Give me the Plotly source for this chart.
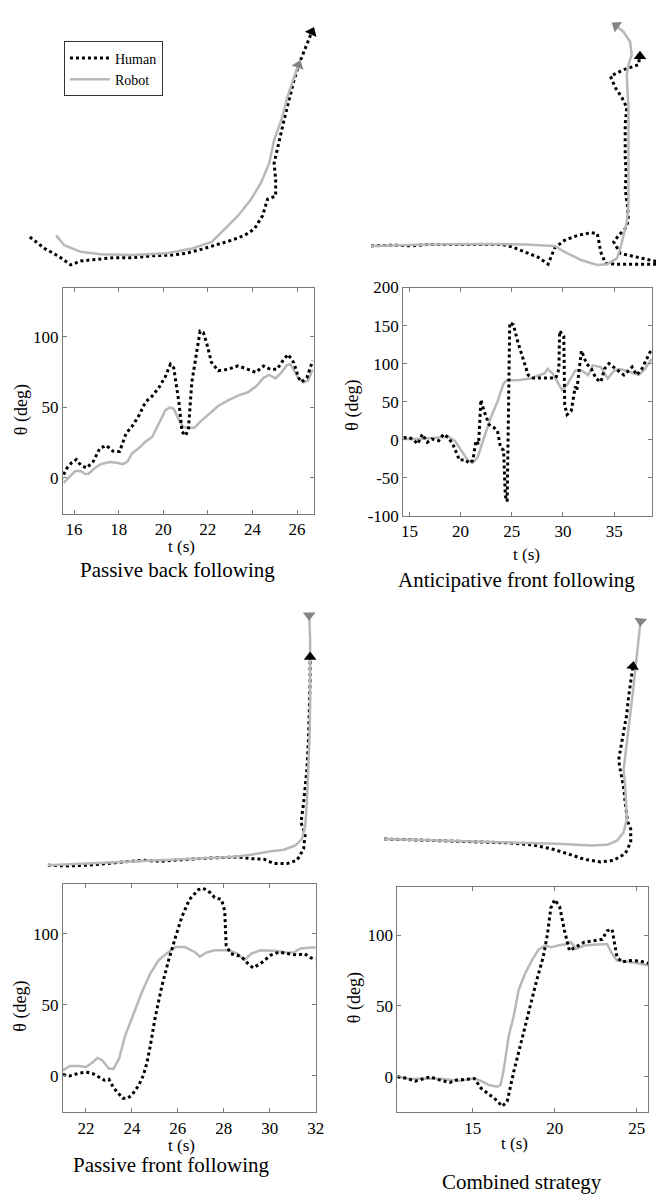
import plotly.graph_objects as go

W, H = 665, 1200
FONT = '"Liberation Serif", "Times New Roman", Times, "DejaVu Serif", serif'

# ---------------- Trajectory data (panel units, y up) ----------------
# Passive back following (top-left)
pb_hx = [28.3, 43.3, 58.3, 70, 80, 96.7, 113.3, 133.3, 153.3, 173.3, 186.7, 203.3, 220, 233.3, 246.7,
         256.7, 265, 270, 278.3, 278.3, 276.7, 281.7, 286.7, 291.7, 296.7, 301.7, 308.3, 315]
pb_hy = [38.3, 26.7, 18.3, 10, 14, 16, 17.3, 17.3, 19.3, 20, 21.7, 26, 30.7, 35, 40,
         46.7, 60, 76.7, 80, 96.7, 113.3, 136.7, 156.7, 176.7, 196.7, 213.3, 230, 246.7]
pb_rx = [55, 63.3, 80, 100, 133.3, 166.7, 193.3, 213.3, 226.7, 240, 253.3, 263.3, 271.7, 276.7, 285,
         290, 296.7, 301.5]
pb_ry = [40, 30, 23.3, 20.7, 20, 21.7, 26.7, 33.3, 46.7, 60, 76.7, 93.3, 113.3, 136.7, 160,
         180, 200, 213]

# Anticipative front following (top-right)
af_hx = [43.3, 66.7, 83.3, 100, 116.7, 140, 160, 176.7, 186.7, 200, 213.3, 223.3, 226.7, 230, 240,
         253.3, 266.7, 273.3, 275, 276.7, 281.7, 293.3, 316.7, 336.7, 336.7, 316.7, 296.7, 290, 295,
         301.7, 305, 304, 301.7, 302.7, 301.7, 301.7, 301.7, 303.3, 298.3, 291.7, 286.7, 300, 315, 316.7]
af_hy = [29.3, 30, 29.3, 30.7, 30.7, 30.7, 31.3, 30.7, 28.3, 23.3, 17.7, 10.7, 18.3, 27.3, 35,
         40, 42.7, 41.7, 33.3, 23.3, 11.7, 10.7, 10.7, 10.7, 12.7, 17.3, 21.7, 33.3, 40,
         46.7, 55, 70, 86.7, 103.3, 120, 136.7, 153.3, 170, 180, 190, 201.7, 208.3, 213.3, 222]
af_rx = [43.3, 100, 160, 200, 230, 240, 256.7, 273.3, 283.3, 293.3, 296.7, 300, 303.3, 305, 305,
         305, 305, 304, 303.3, 305, 308.3, 306.7, 300, 292.5]
af_ry = [29.3, 30.7, 31.3, 30.7, 29.3, 23.3, 15, 10, 10.7, 16.7, 26.7, 40, 53.3, 70, 103.3,
         136.7, 170, 186.7, 203.3, 213.3, 223.3, 236.7, 246.7, 253]

# Passive front following (bottom-left)
pf_hx = [46.7, 66.7, 86.7, 106.7, 126.7, 143.3, 160, 180, 200, 220, 240, 253.3, 266.7, 276.7, 290,
         300, 306.7, 308.3, 304, 306.7, 310, 311.7, 312.7, 313.3, 313.3]
pf_hy = [20, 19.3, 20, 21.7, 23.3, 25, 24, 25.7, 26.7, 27.7, 28.3, 26.7, 26, 21.7, 21.7,
         25, 36.7, 51.7, 63.3, 83.3, 116.7, 150, 183.3, 206.7, 231.7]
pf_rx = [46.7, 133.3, 200, 233.3, 253.3, 273.3, 286.7, 298.3, 305, 308.3, 310, 311.7, 312.7, 313.3,
         313.3, 313.3, 312.3]
pf_ry = [20, 24, 26.7, 28.3, 30.7, 34.3, 35.7, 40, 46.7, 60, 83.3, 116.7, 150, 183.3,
         216.7, 250, 274]

# Combined strategy (bottom-right)
cs_hx = [56.7, 83.3, 116.7, 150, 183.3, 206.7, 226.7, 243.3, 260, 276.7, 290, 301.7, 307.3, 307.3,
         304, 301.7, 300, 296.7, 295, 297.3, 300, 303.3, 305, 307.3, 309.5]
cs_hy = [46.7, 46, 45, 44, 42.7, 40.7, 36.7, 31.7, 26, 23.3, 25, 31.7, 43.3, 56.7,
         65, 83.3, 100, 116.7, 126.7, 140, 156.7, 173.3, 190, 206.7, 222]
cs_rx = [56.7, 133.3, 200, 233.3, 266.7, 283.3, 293.3, 300, 303.3, 302.7, 301.7, 300, 301.7, 304,
         306, 308.3, 310, 311.7, 313.3, 315, 316.7, 317.3]
cs_ry = [46.7, 44.7, 43.3, 41.7, 40, 40.7, 45, 53.3, 66.7, 83.3, 100, 116.7, 133.3, 150,
         166.7, 183.3, 200, 216.7, 233.3, 250, 262, 268]

# ---------------- Heading angle data theta(t) ----------------
pb_ht = [15.53, 15.68, 15.9, 16.1, 16.3, 16.56, 16.86, 17.15, 17.45, 17.74, 18.04, 18.33, 18.62, 18.9,
         19.2, 19.5, 19.8, 20.1, 20.32, 20.47, 20.7, 20.84, 21.0, 21.13, 21.28, 21.5, 21.65, 21.8,
         21.94, 22.16, 22.46, 22.9, 23.35, 23.8, 24.15, 24.5, 24.8, 25.1, 25.4, 25.6, 25.85, 26.07,
         26.2, 26.44, 26.7]
pb_hth = [2.3, 7, 11, 13, 9, 7, 11.7, 21, 23, 19, 18.7, 31.5, 37, 44, 53.7, 58, 64, 72, 80.6, 78,
          53.7, 32.7, 30, 35, 67.8, 91, 104, 103, 96, 82, 76, 77, 79.4, 77, 74.8, 79.4, 77, 77, 84,
          87.6, 81.8, 71, 68, 71, 83]
pb_rt = [15.53, 15.75, 16.04, 16.27, 16.5, 16.63, 16.93, 17.2, 17.6, 17.9, 18.2, 18.4, 18.6, 18.9,
         19.2, 19.5, 19.7, 19.9, 20.1, 20.3, 20.47, 20.7, 20.9, 21.13, 21.4, 21.65, 21.87, 22.16,
         22.46, 22.9, 23.35, 23.8, 24.2, 24.5, 24.75, 25.04, 25.3, 25.55, 25.7, 25.9, 26.07, 26.3,
         26.5, 26.7]
pb_rth = [-3.5, 0, 4.7, 5.1, 2.8, 2.8, 7, 9.8, 11.2, 10.7, 9.8, 11.7, 17.5, 21, 25.7, 29, 35, 41,
          48, 50, 49, 41, 36, 35.5, 35.5, 39.7, 43, 46.7, 51, 55, 58.4, 60.7, 65.4, 71, 73, 70.6,
          74.8, 80, 80.6, 74.8, 70.6, 67.8, 69, 77]

af_ht = [14.43, 15, 15.5, 15.8, 16.27, 16.75, 17.2, 17.86, 18.33, 18.8, 19.3, 19.9, 20.4, 20.87,
         21.2, 21.5, 21.76, 21.98, 22.3, 22.78, 23.25, 23.6, 23.9, 24.2, 24.37, 24.55, 24.8, 25.16,
         25.6, 26.1, 26.6, 27.06, 28, 29.3, 29.6, 29.67, 30.08, 30.17, 30.4, 30.8, 31.2, 31.35,
         31.8, 32.3, 32.78, 33.25, 33.7, 34.05, 34.5, 35.16, 35.95, 36.27, 36.75, 37.2, 37.7,
         38.17, 38.65]
af_hth = [3, 3, -1.3, -5.6, 7.3, -3.4, 0.9, -1.3, 7.3, 3, -7.7, -27, -26, -31, -27, -1.3, -5.6,
          52.5, 37.4, 20, 16, 11.6, -10, -14, -74, -81, 153.6, 151, 128, 106, 85, 81, 81, 81, 93,
          143, 136, 46, 33, 37.4, 70, 65, 117, 100, 93, 80, 76, 93, 100, 93, 85, 89, 95.5, 85, 93,
          106, 119]
af_rt = [14.43, 15.95, 17.86, 18.8, 19.44, 20.08, 20.7, 21.2, 21.67, 22.3, 22.94, 23.6, 24.2, 24.5,
         25.5, 26.75, 27.7, 28.2, 28.5, 29, 29.45, 29.9, 30.4, 31.2, 31.8, 32.46, 32.9, 33.7, 34.37,
         35, 35.63, 36.6, 37.4, 38, 38.65]
af_rth = [1, 1, 3, 4, -1.3, -14, -27, -30.5, -23, 3, 29, 50, 74, 78, 78, 80.5, 85, 87, 93, 87, 76,
          65.4, 72, 91, 91, 85, 97.7, 95.5, 80.5, 91, 93, 89, 85, 93, 106]

pf_ht = [21, 21.3, 21.7, 22, 22.3, 22.6, 22.8, 23, 23.2, 23.6, 23.8, 24, 24.3, 24.5, 24.66, 24.8,
         25.0, 25.3, 25.6, 25.9, 26.17, 26.5, 26.9, 27.1, 27.4, 27.6, 27.9, 28.04, 28.1, 28.3,
         28.76, 29.05, 29.27, 29.6, 30.05, 30.4, 30.8, 31.2, 31.5, 31.8, 32]
pf_hth = [1, 0, 2, 2.8, 1.6, -1.4, -3, -2.3, -8.3, -15.7, -15.7, -13.4, -6.5, 0.5, 9.7, 21, 40, 63,
          81.5, 97.7, 111.6, 124, 131, 132, 129, 125.5, 124, 116, 92, 86, 84, 79, 76, 79, 85, 87,
          86, 85, 86, 83, 82]
pf_rt = [21, 21.3, 21.7, 22, 22.3, 22.5, 22.72, 23, 23.2, 23.44, 23.7, 24.1, 24.45, 24.8, 25.17,
         25.5, 25.9, 26.3, 26.75, 26.96, 27.25, 27.6, 28.2, 28.6, 28.9, 29.2, 29.6, 30.2, 30.8,
         31.06, 31.35, 31.8, 32]
pf_rth = [4, 7, 7, 6.3, 9.7, 12.7, 10.9, 5, 5, 12, 28, 44.4, 59.5, 72, 81.5, 86, 90.7, 90.7, 87,
          83.8, 86.8, 88.4, 88.4, 86, 81.5, 86, 88.4, 88, 86.6, 87, 89.6, 90.3, 90.3]

cs_ht = [10.4, 11, 11.5, 12, 12.4, 13, 13.6, 14, 14.6, 15.1, 15.5, 16, 16.4, 16.8, 17.1, 17.5, 17.9,
         18.4, 18.9, 19.3, 19.56, 19.76, 20, 20.3, 20.6, 20.9, 21.3, 21.8, 22.4, 22.9, 23.2, 23.5,
         23.8, 24.1, 24.6, 25.2, 25.7]
cs_hth = [0, -1.2, -3, -1.2, 0, -2.3, -4, -2.3, -1.6, -1.2, -8, -12.7, -16, -20.8, -17.4, 3.5, 22,
          45, 68, 84.5, 100.7, 119, 125, 120, 103, 89, 91.4, 95, 96, 97, 103, 104, 84.5, 81, 82,
          81.7, 80]
cs_rt = [10.4, 11.2, 12.2, 13.2, 14.2, 15, 15.4, 16, 16.5, 16.7, 16.9, 17.2, 17.5, 17.8, 18.2, 18.6,
         19, 19.4, 19.8, 20.2, 20.8, 21, 21.3, 21.8, 22.6, 23.2, 23.5, 23.8, 24.6, 25.7]
cs_rth = [0, -1.6, -1.2, -1.6, -3, -1.2, -2.3, -5.8, -7, -5.8, 5.8, 29, 42.8, 61.3, 73, 82, 89.6,
          92.6, 91.4, 92.6, 93.7, 95, 90.3, 92.6, 93.3, 93.7, 86.8, 82, 81, 78.7]

titles = ["Passive back following", "Anticipative front following",
          "Passive front following", "Combined strategy"]

# ---------------- Layout geometry (pixels) ----------------
def dx(a, b):
    return [a / W, b / W]

def dy(top, bottom):
    return [1 - bottom / H, 1 - top / H]

traj_boxes = [(0, 332, 0, 270), (332, 665, 0, 270), (0, 332, 590, 890), (332, 665, 590, 890)]
theta_boxes = [(62, 317, 283, 513), (408, 661, 283, 515), (62, 319, 889, 1121), (402, 657, 892, 1121)]
theta_xr = [[15.5, 26.75], [14.4, 38.7], [21, 32], [10.4, 25.7]]
theta_yr = [[-25.5, 135], [-100, 200], [-25.5, 135], [-25, 134]]
theta_xt = [[16, 18, 20, 22, 24, 26], [15, 20, 25, 30, 35], [22, 24, 26, 28, 30, 32], [15, 20, 25]]
theta_yt = [[0, 50, 100], [-100, -50, 0, 50, 100, 150, 200], [0, 50, 100], [0, 50, 100]]

human_col = "black"
robot_col = "#b8b8b8"
arrow_gray = "#858585"

traj_data = [(pb_hx, pb_hy, pb_rx, pb_ry), (af_hx, af_hy, af_rx, af_ry),
             (pf_hx, pf_hy, pf_rx, pf_ry), (cs_hx, cs_hy, cs_rx, cs_ry)]
arrow_angles = [(24, 20), (0, -55), (0, 180), (8, 185)]
theta_data = [(pb_ht, pb_hth, pb_rt, pb_rth), (af_ht, af_hth, af_rt, af_rth),
              (pf_ht, pf_hth, pf_rt, pf_rth), (cs_ht, cs_hth, cs_rt, cs_rth)]

fig = go.Figure()
layout = {}
for i in range(4):
    n = i + 1
    x0, x1, y0, y1 = traj_boxes[i]
    xa, ya = f"x{n}", f"y{n}"
    layout[f"xaxis{n}"] = dict(domain=dx(x0, x1), range=[0, x1 - x0], visible=False, fixedrange=True,
                               anchor=ya)
    layout[f"yaxis{n}"] = dict(domain=dy(y0, y1), range=[0, y1 - y0], visible=False, fixedrange=True,
                               anchor=xa)
    hx, hy, rx, ry = traj_data[i]
    fig.add_trace(go.Scatter(x=hx, y=hy, mode="lines", name="Human", xaxis=xa, yaxis=ya,
                             line=dict(color=human_col, width=3, dash="dot"), showlegend=(i == 0)))
    fig.add_trace(go.Scatter(x=rx, y=ry, mode="lines", name="Robot", xaxis=xa, yaxis=ya,
                             line=dict(color=robot_col, width=2.5), showlegend=(i == 0)))
    ah, ar = arrow_angles[i]
    fig.add_trace(go.Scatter(x=[rx[-1]], y=[ry[-1]], mode="markers", xaxis=xa, yaxis=ya,
                             marker=dict(symbol="triangle-up", size=11, angle=ar, color=arrow_gray),
                             showlegend=False, cliponaxis=False))
    fig.add_trace(go.Scatter(x=[hx[-1]], y=[hy[-1]], mode="markers", xaxis=xa, yaxis=ya,
                             marker=dict(symbol="triangle-up", size=11, angle=ah, color="black"),
                             showlegend=False, cliponaxis=False))

for i in range(4):
    n = i + 5
    x0, x1, y0, y1 = theta_boxes[i]
    xa, ya = f"x{n}", f"y{n}"
    common = dict(showline=True, linecolor="#7a7a7a", linewidth=1, mirror="ticks", ticks="inside",
                  ticklen=4, tickcolor="#7a7a7a", showgrid=False, zeroline=False, fixedrange=True,
                  tickfont=dict(family=FONT, size=17, color="black"))
    layout[f"xaxis{n}"] = dict(domain=dx(x0, x1), range=theta_xr[i], anchor=ya,
                               tickvals=theta_xt[i], ticktext=[str(v) for v in theta_xt[i]], **common)
    layout[f"yaxis{n}"] = dict(domain=dy(y0, y1), range=theta_yr[i], anchor=xa,
                               tickvals=theta_yt[i], ticktext=[str(v) for v in theta_yt[i]], **common)
    ht, hth, rt, rth = theta_data[i]
    fig.add_trace(go.Scatter(x=rt, y=rth, mode="lines", xaxis=xa, yaxis=ya, showlegend=False,
                             line=dict(color=robot_col, width=2.5)))
    fig.add_trace(go.Scatter(x=ht, y=hth, mode="lines", xaxis=xa, yaxis=ya, showlegend=False,
                             line=dict(color=human_col, width=3, dash="dot")))

annotations = []
tpos = [(178, 570), (523, 580), (172, 1175), (529, 1192)]
xlab = [(183, 546), (533, 554), (183, 1155), (521, 1153)]
ylab = [(20, 407), (357, 403), (19, 1013), (358, 1005)]
for i in range(4):
    annotations.append(dict(x=tpos[i][0] / W, y=1 - tpos[i][1] / H, xref="paper", yref="paper",
                            text=titles[i], showarrow=False, xanchor="center", yanchor="middle",
                            font=dict(family=FONT, size=21, color="black")))
    annotations.append(dict(x=xlab[i][0] / W, y=1 - xlab[i][1] / H, xref="paper", yref="paper",
                            text="t (s)", showarrow=False, xanchor="center", yanchor="middle",
                            font=dict(family=FONT, size=17, color="black")))
    annotations.append(dict(x=ylab[i][0] / W, y=1 - ylab[i][1] / H, xref="paper", yref="paper",
                            text="θ (deg)", showarrow=False, xanchor="center", yanchor="middle",
                            textangle=-90, font=dict(family=FONT, size=18, color="black")))

fig.update_layout(
    width=W, height=H, margin=dict(l=0, r=0, t=0, b=0),
    paper_bgcolor="white", plot_bgcolor="rgba(0,0,0,0)",
    font=dict(family=FONT, color="black"),
    annotations=annotations,
    legend=dict(x=63 / W, y=1 - 33 / H, xanchor="left", yanchor="top", bgcolor="white",
                bordercolor="#333333", borderwidth=1, traceorder="normal",
                font=dict(family=FONT, size=14, color="black"), itemwidth=40,
                tracegroupgap=0),
    **layout,
)

fig.write_html("out.html", config={"displayModeBar": False, "staticPlot": True},
               post_script="document.body.style.margin='0';document.body.style.padding='0';")
